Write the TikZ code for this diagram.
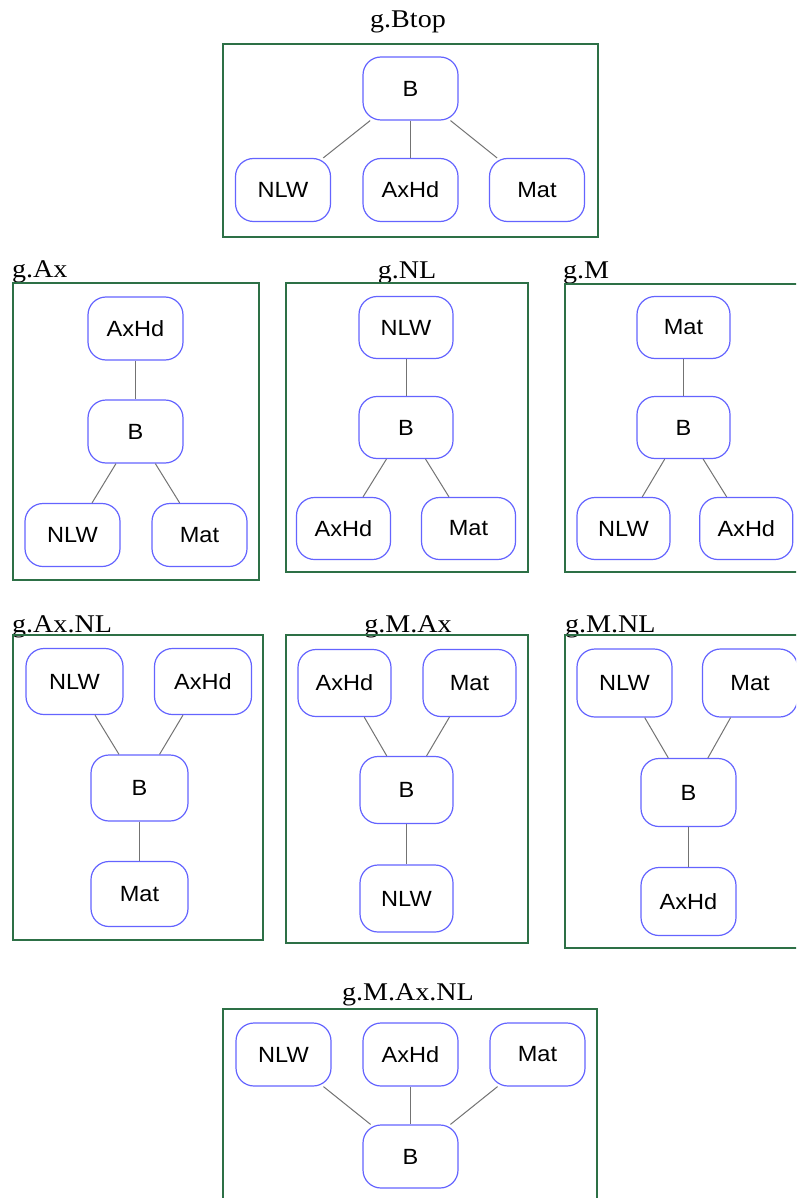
\documentclass[tikz,border=0pt]{standalone}
\usepackage{fontspec}
\newfontfamily\ttlfont[FakeStretch=1.1]{Liberation Serif}
\newfontfamily\ndfont[FakeStretch=1.07]{Liberation Sans}
\definecolor{boxgreen}{RGB}{45,112,70}
\definecolor{ndblue}{RGB}{100,100,255}
\definecolor{edgegray}{RGB}{115,115,115}
\tikzset{
  ttl/.style={anchor=base, inner sep=0pt, font=\ttlfont\fontsize{25.5}{28}\selectfont},
  panel/.style={draw=boxgreen, line width=1.6pt},
  nd/.style 2 args={draw=ndblue, fill=white, line width=1.2pt, rounded corners=18pt,
     rectangle, inner sep=0pt, minimum width=#1, minimum height=#2,
     font=\ndfont\fontsize{22}{24}\selectfont},
  edge/.style={draw=edgegray, line width=1pt}
}
\begin{document}
\begin{tikzpicture}[x=1pt,y=-1pt]
\useasboundingbox (0,0) rectangle (796,1198);
\clip (0,0) rectangle (796,1198);
\fill[white] (0,0) rectangle (796,1198);

% ---- g.Btop ----
\node[ttl] (t1) at (408,27.5) {g.Btop};
\draw[panel] (223,44) rectangle (598,237);
\node[nd={95pt}{63pt}] (p1B) at (410.5,88.5) {B};
\node[nd={95pt}{63pt}] (p1N) at (283,190) {NLW};
\node[nd={95pt}{63pt}] (p1A) at (410.5,190) {AxHd};
\node[nd={95pt}{63pt}] (p1M) at (537,190) {Mat};
\draw[edge] (p1B) -- (p1N);
\draw[edge] (p1B) -- (p1A);
\draw[edge] (p1B) -- (p1M);

% ---- g.Ax ----
\node[ttl, anchor=base west] (t2) at (12,277) {g.Ax};
\draw[panel] (13,283) rectangle (259,580);
\node[nd={95pt}{63pt}] (p2A) at (135.5,328.5) {AxHd};
\node[nd={95pt}{63pt}] (p2B) at (135.5,431.5) {B};
\node[nd={95pt}{63pt}] (p2N) at (72.5,535) {NLW};
\node[nd={95pt}{63pt}] (p2M) at (199.5,535) {Mat};
\draw[edge] (p2A) -- (p2B);
\draw[edge] (p2B) -- (p2N);
\draw[edge] (p2B) -- (p2M);

% ---- g.NL ----
\node[ttl] (t3) at (407,278) {g.NL};
\draw[panel] (286,283) rectangle (528,572);
\node[nd={94pt}{62pt}] (p3N) at (406,327.5) {NLW};
\node[nd={94pt}{62pt}] (p3B) at (406,427.5) {B};
\node[nd={94pt}{62pt}] (p3A) at (343.5,528.5) {AxHd};
\node[nd={94pt}{62pt}] (p3M) at (468.5,528.5) {Mat};
\draw[edge] (p3N) -- (p3B);
\draw[edge] (p3B) -- (p3A);
\draw[edge] (p3B) -- (p3M);

% ---- g.M ----
\node[ttl, anchor=base west] (t4) at (563,278) {g.M};
\draw[panel] (565,284) rectangle (820,572);
\node[nd={93pt}{62pt}] (p4M) at (683.5,327.5) {Mat};
\node[nd={93pt}{62pt}] (p4B) at (683.5,427.5) {B};
\node[nd={93pt}{62pt}] (p4N) at (623.5,528.5) {NLW};
\node[nd={93pt}{62pt}] (p4A) at (746.3,528.5) {AxHd};
\draw[edge] (p4M) -- (p4B);
\draw[edge] (p4B) -- (p4N);
\draw[edge] (p4B) -- (p4A);

% ---- g.Ax.NL ----
\node[ttl, anchor=base west] (t5) at (12,632) {g.Ax.NL};
\draw[panel] (13,635) rectangle (263,940);
\node[nd={97pt}{66pt}] (p5N) at (74.5,681.5) {NLW};
\node[nd={97pt}{66pt}] (p5A) at (203,681.5) {AxHd};
\node[nd={97pt}{66pt}] (p5B) at (139.5,788) {B};
\node[nd={97pt}{65pt}] (p5M) at (139.5,894) {Mat};
\draw[edge] (p5N) -- (p5B);
\draw[edge] (p5A) -- (p5B);
\draw[edge] (p5B) -- (p5M);

% ---- g.M.Ax ----
\node[ttl] (t6) at (408,632) {g.M.Ax};
\draw[panel] (286,635) rectangle (528,943);
\node[nd={93pt}{67pt}] (p6A) at (344.5,683) {AxHd};
\node[nd={93pt}{67pt}] (p6M) at (469.5,683) {Mat};
\node[nd={93pt}{67pt}] (p6B) at (406.5,790) {B};
\node[nd={93pt}{67pt}] (p6N) at (406.5,898.5) {NLW};
\draw[edge] (p6A) -- (p6B);
\draw[edge] (p6M) -- (p6B);
\draw[edge] (p6B) -- (p6N);

% ---- g.M.NL ----
\node[ttl, anchor=base west] (t7) at (565,632) {g.M.NL};
\draw[panel] (565,635) rectangle (820,948);
\node[nd={95pt}{68pt}] (p7N) at (624.5,683) {NLW};
\node[nd={95pt}{68pt}] (p7M) at (750,683) {Mat};
\node[nd={95pt}{68pt}] (p7B) at (688.5,792.5) {B};
\node[nd={95pt}{68pt}] (p7A) at (688.5,901.5) {AxHd};
\draw[edge] (p7N) -- (p7B);
\draw[edge] (p7M) -- (p7B);
\draw[edge] (p7B) -- (p7A);

% ---- g.M.Ax.NL ----
\node[ttl] (t8) at (408,1000) {g.M.Ax.NL};
\draw[panel] (223,1009) rectangle (597,1230);
\node[nd={95pt}{63pt}] (p8N) at (283.5,1054.5) {NLW};
\node[nd={95pt}{63pt}] (p8A) at (410.5,1054.5) {AxHd};
\node[nd={95pt}{63pt}] (p8M) at (537.5,1054.5) {Mat};
\node[nd={95pt}{63pt}] (p8B) at (410.5,1156.5) {B};
\draw[edge] (p8N) -- (p8B);
\draw[edge] (p8A) -- (p8B);
\draw[edge] (p8M) -- (p8B);
\end{tikzpicture}
\end{document}
